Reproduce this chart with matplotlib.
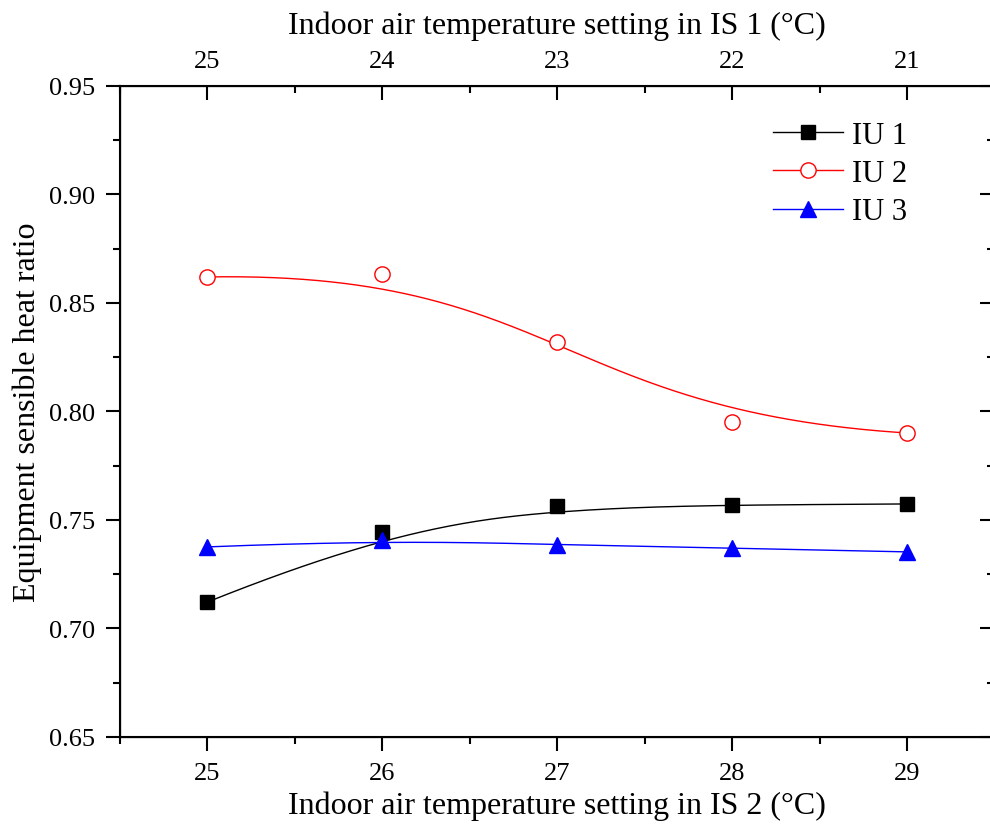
import numpy as np
import matplotlib
matplotlib.use("Agg")
import matplotlib.pyplot as plt
from matplotlib.ticker import MultipleLocator

# data
t_is2 = [25, 26, 27, 28, 29]
t_is1_labels = ["25", "24", "23", "22", "21"]
iu1 = [0.7122, 0.7445, 0.7565, 0.7569, 0.7574]
iu2 = [0.8620, 0.8634, 0.8320, 0.7952, 0.7901]
iu3 = [0.7376, 0.7408, 0.7385, 0.7371, 0.7353]


def bspline(px, py, n=300, k=3):
    # clamped B-spline using the data points as control points
    px = np.asarray(px, float)
    py = np.asarray(py, float)
    m = len(px)
    knots = np.concatenate([np.zeros(k), np.arange(m - k + 1), np.full(k, m - k)])
    u = np.linspace(0, m - k, n)
    u[-1] -= 1e-9
    # Cox-de Boor
    N = np.zeros((n, len(knots) - 1))
    for i in range(len(knots) - 1):
        N[:, i] = (u >= knots[i]) & (u < knots[i + 1])
    for d in range(1, k + 1):
        Nn = np.zeros((n, len(knots) - 1 - d))
        for i in range(len(knots) - 1 - d):
            a = knots[i + d] - knots[i]
            b = knots[i + d + 1] - knots[i + 1]
            left = (u - knots[i]) / a * N[:, i] if a > 0 else 0
            right = (knots[i + d + 1] - u) / b * N[:, i + 1] if b > 0 else 0
            Nn[:, i] = left + right
        N = Nn
    return N @ px, N @ py


def main():
    plt.rcParams['font.family'] = ['Liberation Serif', 'DejaVu Serif']

    fig = plt.figure(figsize=(9.9, 8.28), dpi=100)
    ax = fig.add_axes([120 / 990, 90 / 828, 874.5 / 990, 651 / 828])

    series = [
        (iu1, "IU 1", "black", dict(marker="s", mfc="black", mec="black", ms=10)),
        (iu2, "IU 2", "red", dict(marker="o", mfc="white", mec="red", ms=11)),
        (iu3, "IU 3", "blue", dict(marker="^", mfc="blue", mec="blue", ms=12)),
    ]
    for y, name, col, mk in series:
        cx, cy = bspline(t_is2, y)
        ax.plot(cx, cy, color=col, lw=1.0)
        ax.plot(t_is2, y, ls="none", **mk)
        ax.plot([], [], color=col, lw=1.0, label=name, **mk)

    ax.set_xlim(24.5, 29.5)
    ax.set_ylim(0.65, 0.95)
    ax.set_xticks(t_is2)
    ax.xaxis.set_minor_locator(MultipleLocator(0.5))
    ax.yaxis.set_major_locator(MultipleLocator(0.05))
    ax.yaxis.set_minor_locator(MultipleLocator(0.025))
    ax.yaxis.set_major_formatter(plt.FuncFormatter(lambda v, p: f"{v:.2f}"))
    ax.tick_params(which="both", direction="out", width=1.5, labelsize=19, pad=8)
    ax.tick_params(which="major", length=10)
    ax.tick_params(which="minor", length=5)
    for side in ["left", "bottom", "top", "right"]:
        ax.spines[side].set_linewidth(1.5)

    ax.set_xlabel("Indoor air temperature setting in IS 2 (°C)", fontsize=23, labelpad=5)
    ax.set_ylabel("Equipment sensible heat ratio", fontsize=23, labelpad=5)

    # right ticks point inward
    ax2 = ax.twinx()
    ax2.set_ylim(ax.get_ylim())
    ax2.yaxis.set_major_locator(MultipleLocator(0.05))
    ax2.yaxis.set_minor_locator(MultipleLocator(0.025))
    ax2.tick_params(which="both", direction="in", width=1.5, labelright=False)
    ax2.tick_params(which="major", length=10)
    ax2.tick_params(which="minor", length=5)

    top = ax.twiny()
    top.set_xlim(ax.get_xlim())
    top.set_xticks(t_is2)
    top.set_xticklabels(t_is1_labels)
    top.xaxis.set_minor_locator(MultipleLocator(0.5))
    top.tick_params(which="both", direction="in", width=1.5, labelsize=19, pad=10)
    top.tick_params(which="major", length=10)
    top.tick_params(which="minor", length=5)
    top.set_xlabel("Indoor air temperature setting in IS 1 (°C)", fontsize=23, labelpad=12)

    ax.legend(loc="upper right", bbox_to_anchor=(0.914, 0.965), frameon=False,
              fontsize=22, handlelength=2.3, handletextpad=0.3,
              labelspacing=0.3, borderaxespad=0)

    fig.savefig("out.png", dpi=100)
    plt.close(fig)


if __name__ == "__main__":
    main()
